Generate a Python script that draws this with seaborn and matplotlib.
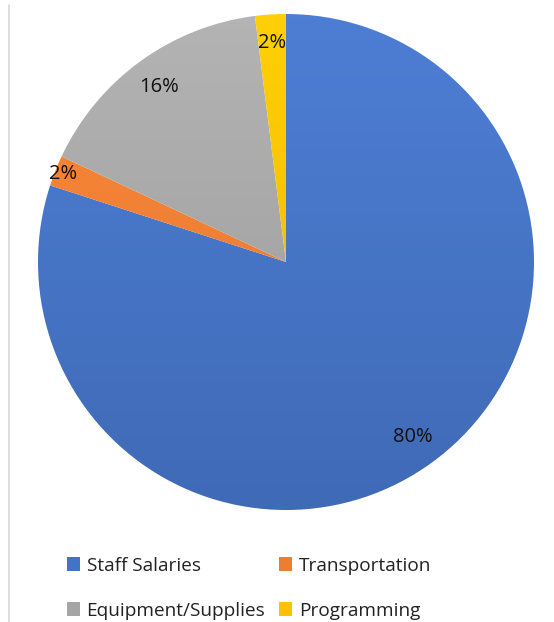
import numpy as np
import matplotlib
matplotlib.use("Agg")
import matplotlib.pyplot as plt
from matplotlib.colors import to_rgb
from matplotlib.lines import Line2D
from matplotlib.patches import Patch
import seaborn as sns

categories = ["Staff Salaries", "Transportation", "Equipment/Supplies", "Programming"]
shares = [80, 2, 16, 2]
labels = ["80%", "2%", "16%", "2%"]

sns.set_theme(style="white")
plt.rcParams["font.family"] = ["Open Sans", "DejaVu Sans"]

palette = sns.color_palette(["#4472C4", "#ED7D31", "#A5A5A5", "#FFC000"])

W, H = 554, 622
fig = plt.figure(figsize=(W / 100, H / 100), dpi=100)
fig.patch.set_facecolor("white")

cx, cy, R = 286, 262, 248
ax = fig.add_axes([(cx - R) / W, 1 - (cy + R) / H, 2 * R / W, 2 * R / H])

wedges, _ = ax.pie(shares, colors=palette, startangle=90, counterclock=False,
                   wedgeprops=dict(linewidth=0))
ax.set_aspect("equal")
ax.axis("off")

# soft vertical shading on each slice
yy = np.linspace(1, 0, 256)[:, None]
for w, c in zip(wedges, palette):
    rgb = np.array(to_rgb(c))
    top = np.clip(rgb * 1.05 + 0.025, 0, 1)
    bot = rgb * 0.93
    grad = top[None, None, :] * yy[..., None] + bot[None, None, :] * (1 - yy[..., None])
    grad = np.repeat(grad, 4, axis=1)
    im = ax.imshow(grad, extent=(-1, 1, -1, 1), origin="upper", zorder=1,
                   interpolation="bilinear")
    im.set_clip_path(w)
    w.set_facecolor("none")
ax.set_xlim(-1, 1)
ax.set_ylim(-1, 1)

# percentage labels
dists = [0.87, 0.965, 0.87, 0.885]
for w, lab, d in zip(wedges, labels, dists):
    mid = np.deg2rad((w.theta1 + w.theta2) / 2)
    ax.text(d * np.cos(mid), d * np.sin(mid), lab, ha="center", va="center",
            fontsize=14.5, color="#111111", zorder=3)

# legend, filled row by row (two columns)
handles = {cat: Patch(facecolor=c, edgecolor="none") for cat, c in zip(categories, palette)}
order = ["Staff Salaries", "Equipment/Supplies", "Transportation", "Programming"]
leg = fig.legend([handles[k] for k in order], order, ncol=2, loc="upper left",
                 bbox_to_anchor=(59 / W, 1 - 549 / H), frameon=False,
                 fontsize=13.7, handlelength=0.7, handleheight=0.7,
                 handletextpad=0.35, columnspacing=0.7, labelspacing=1.42,
                 labelcolor="#222222", borderaxespad=0)

# thin border line on the left
fig.add_artist(Line2D([9 / W, 9 / W], [0, 1 - 5 / H], color="#d9d9d9", lw=1.2))

fig.savefig("out.png", dpi=100, facecolor="white")
